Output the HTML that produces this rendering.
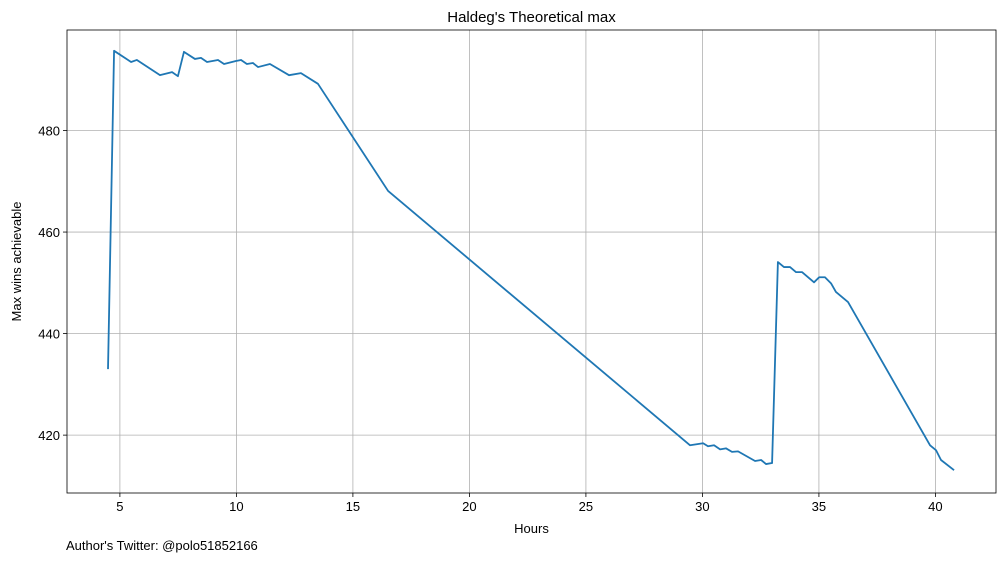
<!DOCTYPE html>
<html><head><meta charset="utf-8"><style>
body{margin:0;background:#fff;font-family:"Liberation Sans","DejaVu Sans",sans-serif;}
svg text{font-family:"Liberation Sans","DejaVu Sans",sans-serif;fill:#000;}
</style></head><body>
<svg id="chart" width="1005" height="562"></svg>
<script>
const xValues=[4.49,4.75,5.48,5.73,6.72,7.24,7.49,7.75,8.22,8.48,8.74,9.21,9.47,9.98,10.2,10.45,10.71,10.93,11.44,12.26,12.77,13.5,16.51,29.47,30.03,30.24,30.5,30.76,31.01,31.27,31.53,32.26,32.52,32.73,32.99,33.24,33.5,33.76,34.02,34.28,34.79,35.01,35.26,35.52,35.73,36.25,39.77,40.03,40.24,40.8];
const yValues=[433.0,495.7,493.5,493.9,490.9,491.5,490.7,495.5,494.1,494.3,493.5,493.9,493.1,493.7,493.9,493.1,493.3,492.5,493.1,490.9,491.3,489.2,468.1,418.0,418.4,417.8,418.0,417.2,417.4,416.7,416.8,414.9,415.1,414.3,414.5,454.1,453.1,453.1,452.1,452.1,450.1,451.1,451.1,449.9,448.2,446.2,418.0,417.0,415.1,413.1];
const xTicks=[5,10,15,20,25,30,35,40];
const yTicks=[420,440,460,480];
const L=67,R=996,T=30,B=493;
const xMin=2.73,xMax=42.6,yMin=408.6,yMax=499.8;
const sx=v=>L+(v-xMin)/(xMax-xMin)*(R-L);
const sy=v=>B-(v-yMin)/(yMax-yMin)*(B-T);
const svg=document.getElementById('chart');
const NS='http://www.w3.org/2000/svg';
function mk(tag,attrs,parent){const e=document.createElementNS(NS,tag);for(const k in attrs)e.setAttribute(k,attrs[k]);(parent||svg).appendChild(e);return e;}
xTicks.forEach(t=>{const x=sx(t);
const g=mk('line',{x1:x,x2:x,y1:T,y2:B,stroke:'#b0b0b0','stroke-width':0.8});


mk('line',{x1:x,x2:x,y1:B,y2:B+4,stroke:'#000','stroke-width':0.8});
const tx=mk('text',{x:x,y:B+18,'text-anchor':'middle','font-size':13});tx.textContent=t;

});
yTicks.forEach(t=>{const y=sy(t);
const g=mk('line',{x1:L,x2:R,y1:y,y2:y,stroke:'#b0b0b0','stroke-width':0.8});


mk('line',{x1:L-4,x2:L,y1:y,y2:y,stroke:'#000','stroke-width':0.8});
const tx=mk('text',{x:L-7,y:y+5,'text-anchor':'end','font-size':13});tx.textContent=t;

});
const pl=mk('polyline',{points:xValues.map((v,i)=>sx(v)+','+sy(yValues[i])).join(' '),fill:'none',stroke:'#1f77b4','stroke-width':1.8,'stroke-linejoin':'round'});


const fr=mk('rect',{x:L,y:T,width:R-L,height:B-T,fill:'none',stroke:'#000','stroke-width':0.8});


const ti=mk('text',{x:(L+R)/2,y:22,'text-anchor':'middle','font-size':15});ti.textContent="Haldeg's Theoretical max";


const xl=mk('text',{x:(L+R)/2,y:533,'text-anchor':'middle','font-size':13});xl.textContent='Hours';


const yl=mk('text',{x:0,y:0,'text-anchor':'middle','font-size':13,transform:'translate(21,'+((T+B)/2)+') rotate(-90)'});yl.textContent='Max wins achievable';


const au=mk('text',{x:66,y:550,'font-size':13});au.textContent="Author's Twitter: @polo51852166";


</script>
</body></html>
